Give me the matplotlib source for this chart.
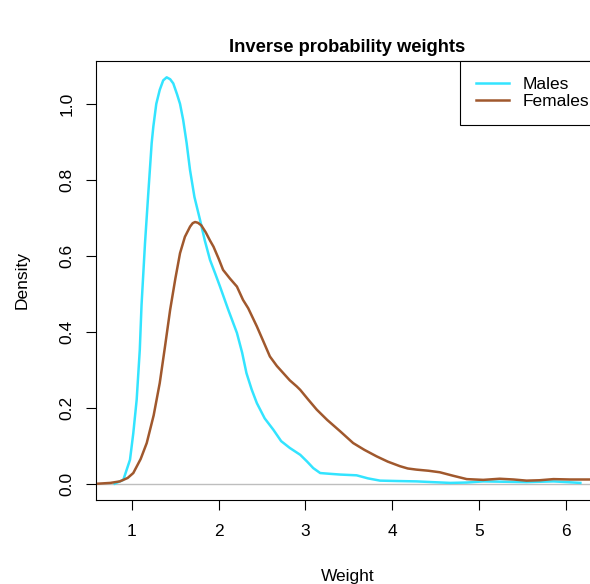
import matplotlib
matplotlib.use("Agg")
import matplotlib.pyplot as plt

plt.rcParams['font.family'] = ['Liberation Sans', 'DejaVu Sans']

# density curves
male_x = [0.80, 0.90, 0.977, 1.015, 1.054, 1.09, 1.11, 1.15, 1.188, 1.227, 1.246, 1.28, 1.32,
          1.36, 1.40, 1.44, 1.476, 1.52, 1.554, 1.59, 1.63, 1.669, 1.72, 1.784, 1.84, 1.90,
          1.96, 2.015, 2.11, 2.21, 2.27, 2.32, 2.38, 2.44, 2.53, 2.63, 2.72, 2.82, 2.94, 3.02,
          3.09, 3.17, 3.28, 3.40, 3.59, 3.72, 3.86, 4.05, 4.28, 4.47, 4.67, 4.86, 5.05, 5.30,
          5.55, 5.70, 5.86, 6.02, 6.17]
male_y = [0.000, 0.010, 0.063, 0.133, 0.221, 0.353, 0.470, 0.633, 0.765, 0.897, 0.940, 1.000, 1.037,
          1.062, 1.070, 1.065, 1.054, 1.025, 1.000, 0.958, 0.897, 0.826, 0.755, 0.695, 0.640, 0.589,
          0.553, 0.519, 0.458, 0.397, 0.345, 0.291, 0.248, 0.212, 0.172, 0.142, 0.112, 0.094, 0.076, 0.058,
          0.041, 0.028, 0.026, 0.024, 0.022, 0.014, 0.008, 0.007, 0.006, 0.004, 0.002, 0.003, 0.006, 0.005,
          0.004, 0.005, 0.006, 0.004, 0.002]

female_x = [0.61, 0.75, 0.86, 0.95, 1.015, 1.10, 1.17, 1.25, 1.32, 1.38, 1.44, 1.50, 1.554,
            1.61, 1.67, 1.70, 1.727, 1.76, 1.80, 1.85, 1.90, 1.94, 2.00, 2.05, 2.13, 2.21, 2.28,
            2.34, 2.44, 2.52, 2.59, 2.67, 2.745, 2.82, 2.90, 2.94, 3.03, 3.13, 3.25, 3.40, 3.55,
            3.68, 3.82, 3.95, 4.09, 4.18, 4.28, 4.42, 4.55, 4.70, 4.86, 5.05, 5.24, 5.40, 5.55,
            5.70, 5.86, 6.05, 6.28]
female_y = [0.000, 0.002, 0.006, 0.015, 0.028, 0.065, 0.107, 0.180, 0.265, 0.360, 0.458, 0.540, 0.607,
            0.650, 0.677, 0.686, 0.689, 0.687, 0.680, 0.662, 0.640, 0.624, 0.592, 0.563, 0.540, 0.519, 0.484,
            0.462, 0.414, 0.372, 0.335, 0.310, 0.291, 0.272, 0.256, 0.247, 0.222, 0.195, 0.168, 0.138, 0.107,
            0.089, 0.072, 0.058, 0.046, 0.040, 0.037, 0.034, 0.030, 0.021, 0.012, 0.010, 0.013, 0.011, 0.008,
            0.009, 0.012, 0.011, 0.011]

male_col = "#33E4FF"
female_col = "#A0582D"

fig = plt.figure(figsize=(5.90, 5.84), dpi=100)
W, H = 590, 584
# plot region in pixels: left 96, right 599 (runs past the image edge), top 61, bottom 500
ax = fig.add_axes([96 / W, (H - 500) / H, (599 - 96) / W, (500 - 61) / H])

ax.axhline(0, color="#BEBEBE", lw=1.0, zorder=1)
ax.plot(male_x, male_y, color=male_col, lw=1.8, label="Males", zorder=3)
ax.plot(female_x, female_y, color=female_col, lw=1.8, label="Females", zorder=3)

ax.set_xlim(0.585, 6.385)
ax.set_ylim(-0.043, 1.113)
ax.set_xticks([1, 2, 3, 4, 5, 6])
ax.set_xticklabels(["1", "2", "3", "4", "5", "6"])
ax.set_yticks([0.0, 0.2, 0.4, 0.6, 0.8, 1.0])
ax.set_yticklabels(["0.0", "0.2", "0.4", "0.6", "0.8", "1.0"], rotation=90, va="center")
ax.tick_params(axis="both", length=7.5, width=0.8, labelsize=12.5, colors="black")
ax.tick_params(axis="x", pad=10)
ax.tick_params(axis="y", pad=8)
for s in ax.spines.values():
    s.set_linewidth(0.8)
    s.set_color("black")

fig.text(347.5 / W, 1 - 47 / H, "Inverse probability weights", ha="center", va="center",
         fontsize=13.2, fontweight="bold")
fig.text(347.5 / W, 1 - 576 / H, "Weight", ha="center", va="center", fontsize=12.5)
fig.text(22 / W, 1 - 280 / H, "Density", ha="center", va="center", fontsize=12.5, rotation=90)

# legend sits a little past the plot's right edge, as in the original
leg = ax.legend(loc="upper right", bbox_to_anchor=(1 + 6 / 503, 1), borderaxespad=0, fontsize=12.5,
                handlelength=1.9, handletextpad=0.8, labelspacing=0.12, borderpad=0.9,
                fancybox=False, framealpha=1, edgecolor="black")
leg.get_frame().set_linewidth(0.8)

fig.savefig("out.png", dpi=100)
